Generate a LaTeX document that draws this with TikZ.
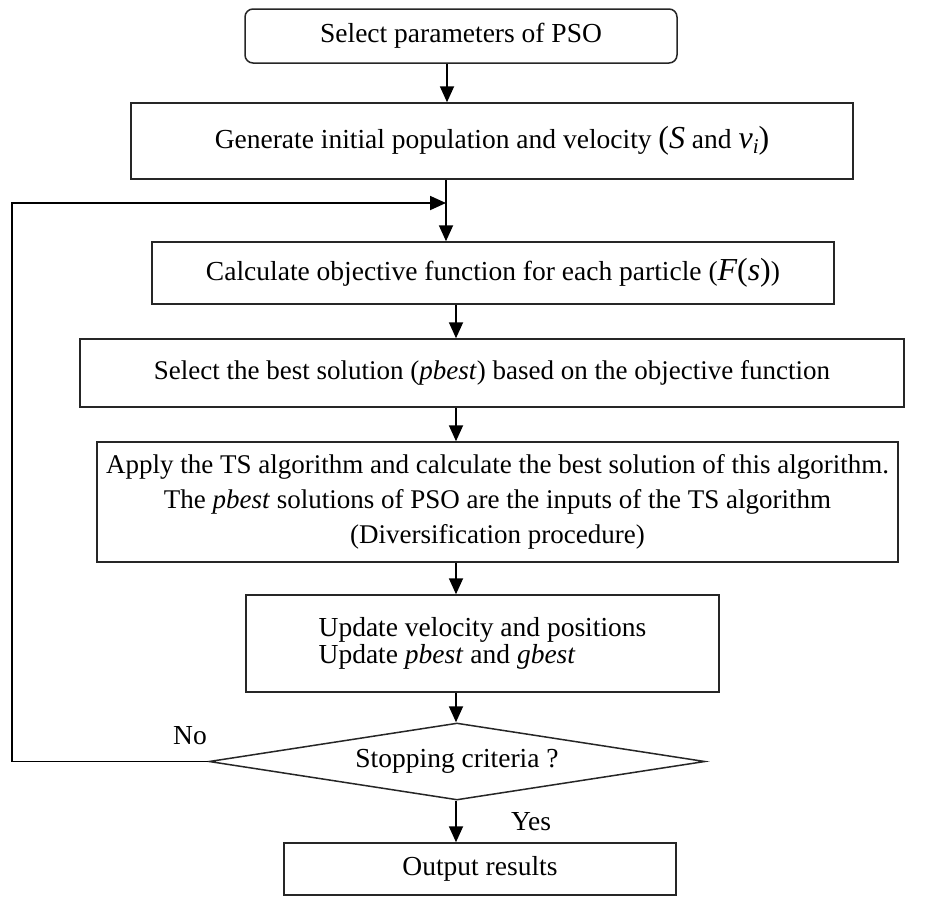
\documentclass[tikz,border=0pt]{standalone}
\usepackage{fontspec}
\setmainfont{Liberation Serif}
\usetikzlibrary{shapes.geometric,arrows.meta}
\newcommand{\bigit}[1]{{\fontsize{32}{32}\selectfont\itshape #1}}
\newcommand{\bigpar}[1]{{\fontsize{32}{32}\selectfont #1}}
\begin{document}
\begin{tikzpicture}[x=1pt,y=-1pt,
  every node/.style={font=\fontsize{27.5}{33}\selectfont},
  box/.style={draw=black!85,line width=1.5pt,rectangle,inner sep=0pt,align=center},
  arr/.style={draw=black,line width=1.8pt,-{Triangle[length=16pt,width=14pt]}},
  conn/.style={draw=black,line width=1.8pt}]
\path[use as bounding box,fill=white] (0,0) rectangle (944,900);

\node[box,rounded corners=8pt,minimum width=432pt,minimum height=54pt] (b1) at (461,36) {Select parameters of PSO};
\node[box,minimum width=722pt,minimum height=76pt] (b2) at (492,141)
  {Generate initial population and velocity \bigpar{(}\bigit{S} and \bigit{v}\raisebox{-5pt}{\fontsize{21}{21}\selectfont\itshape i}\bigpar{)}};
\node[box,minimum width=682pt,minimum height=62pt] (b3) at (493,273)
  {Calculate objective function for each particle (\bigit{F}\bigpar{(}\bigit{s}\bigpar{)})};
\node[box,minimum width=824pt,minimum height=68pt,font=\fontsize{27}{33}\selectfont] (b4) at (492,373)
  {Select the best solution (\textit{pbest}) based on the objective function};
\node[box,minimum width=801pt,minimum height=120pt,font=\fontsize{27}{35}\selectfont] (b5) at (497.5,502)
  {Apply the TS algorithm and calculate the best solution of this algorithm.\\
   The \textit{pbest} solutions of PSO are the inputs of the TS algorithm\\
   (Diversification procedure)};
\node[box,minimum width=473pt,minimum height=97pt,font=\fontsize{27.5}{27}\selectfont,align=left] (b6) at (482.5,643.5)
  {Update velocity and positions\\Update \textit{pbest} and \textit{gbest}};
\node[draw=black!85,line width=1.5pt,diamond,aspect=6.44,inner sep=0pt,minimum width=496pt,minimum height=77pt] (dia) at (457,761.5) {\raisebox{-3pt}{Stopping criteria ?}};
\node[box,minimum width=392pt,minimum height=52pt] (b7) at (480,869) {Output results};

\node (no) at (190,736) {No};
\node (yes) at (531,822) {Yes};

\coordinate (xa) at (447,0);
\coordinate (xb) at (446,0);
\coordinate (xc) at (456,0);
\coordinate (fbx) at (12,0);
\coordinate (join) at (446,203);

\draw[arr] (b1.south -| xa) -- (b2.north -| xa);
\draw[arr] (b2.south -| xb) -- (b3.north -| xb);
\draw[arr] (dia.west) -- (fbx |- dia.west) |- (join);
\draw[arr] (b3.south -| xc) -- (b4.north -| xc);
\draw[arr] (b4.south -| xc) -- (b5.north -| xc);
\draw[arr] (b5.south -| xc) -- (b6.north -| xc);
\draw[arr] (b6.south -| xc) -- (dia.north -| xc);
\draw[arr] (dia.south -| xc) -- (b7.north -| xc);
\end{tikzpicture}
\end{document}
